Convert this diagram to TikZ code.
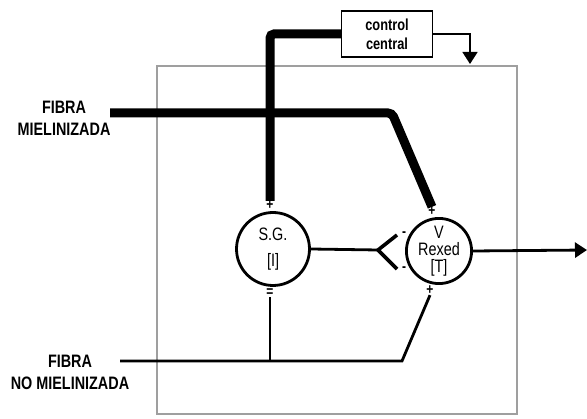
\documentclass[tikz,border=0pt]{standalone}
\usepackage{fontspec}
\newfontfamily\labelfont[FakeStretch=0.8]{Liberation Sans}
\usetikzlibrary{positioning,arrows.meta}

\begin{document}
\begin{tikzpicture}[x=1pt, y=-1pt, >={Triangle[length=12pt,width=15pt]},
    fibra/.style={line width=9pt, rounded corners=4pt},
    nerve/.style={line width=2.8pt},
    neuron/.style={circle, draw, line width=2.8pt, inner sep=0pt, align=center,
      font=\labelfont\fontsize{18}{17}\selectfont},
    sign/.style={inner sep=0pt, font=\labelfont\bfseries\fontsize{15}{15}\selectfont},
    tag/.style={align=center, font=\labelfont\bfseries\fontsize{18}{22}\selectfont}]
    \useasboundingbox (0,0) rectangle (587,419);
    % Frame
    \draw[gray!75, line width=1.8pt] (157,66) rectangle (517,414);
    % Control central
    \node[draw, line width=1.3pt, minimum width=91pt, minimum height=46pt, align=center,
      font=\labelfont\bfseries\fontsize{16}{19}\selectfont] (ctrl) at (387,34) {control\\central};
    \coordinate (ctrlin) at (470,64);
    \draw[->, line width=1.6pt] (ctrl.east) -| (ctrlin);
    % Cells
    \node[neuron, minimum size=73pt] (sg) at (273,249) {S.G.\\[9pt]{[I]}};
    \node[neuron, minimum size=62pt] (rexed) at (439,251) {V\\Rexed\\{[T]}};
    \node[sign, above=1pt of sg, xshift=-3pt] (sgplus) {+};
    \node[sign, below=2pt of sg, xshift=-3pt] (sgeq) {=};
    \node[sign, above=1pt of rexed, xshift=-7pt] (rxplus) {+};
    \node[sign, below=1pt of rexed, xshift=-9pt] (rxminus) {+};
    % Inhibition fork
    \coordinate (fork) at (378,250);
    \coordinate (armup) at (397,235);
    \coordinate (armdown) at (397,269);
    \node[sign] (mup) at (404,234) {-};
    \node[sign] (mdown) at (404,269) {-};
    \draw[nerve] (sg.east) -- (fork);
    \draw[line width=3.6pt] (armup) -- (fork) -- (armdown);
    % Output
    \coordinate (out) at (587,250);
    \draw[->, nerve] (rexed.east) -- (out);
    % Fibra mielinizada
    \node[tag] (mielin) at (64,118) {FIBRA\\MIELINIZADA};
    \coordinate (mstart) at (110,113);
    \coordinate (mbend) at (392,113);
    \draw[fibra] (mstart) -- (mbend) -- (rxplus.north);
    \draw[fibra] (ctrl.west) -| (sgplus.north);
    % Fibra no mielinizada
    \node[tag] (nomielin) at (70,372) {FIBRA\\NO MIELINIZADA};
    \coordinate (nmstart) at (120,361);
    \coordinate (nmbend) at (402,361);
    \draw[nerve] (nmstart) -- (nmbend) -- (rxminus.south);
    \draw[nerve] (sgeq.south) -- (sgeq |- nmstart);
\end{tikzpicture}
\end{document}
